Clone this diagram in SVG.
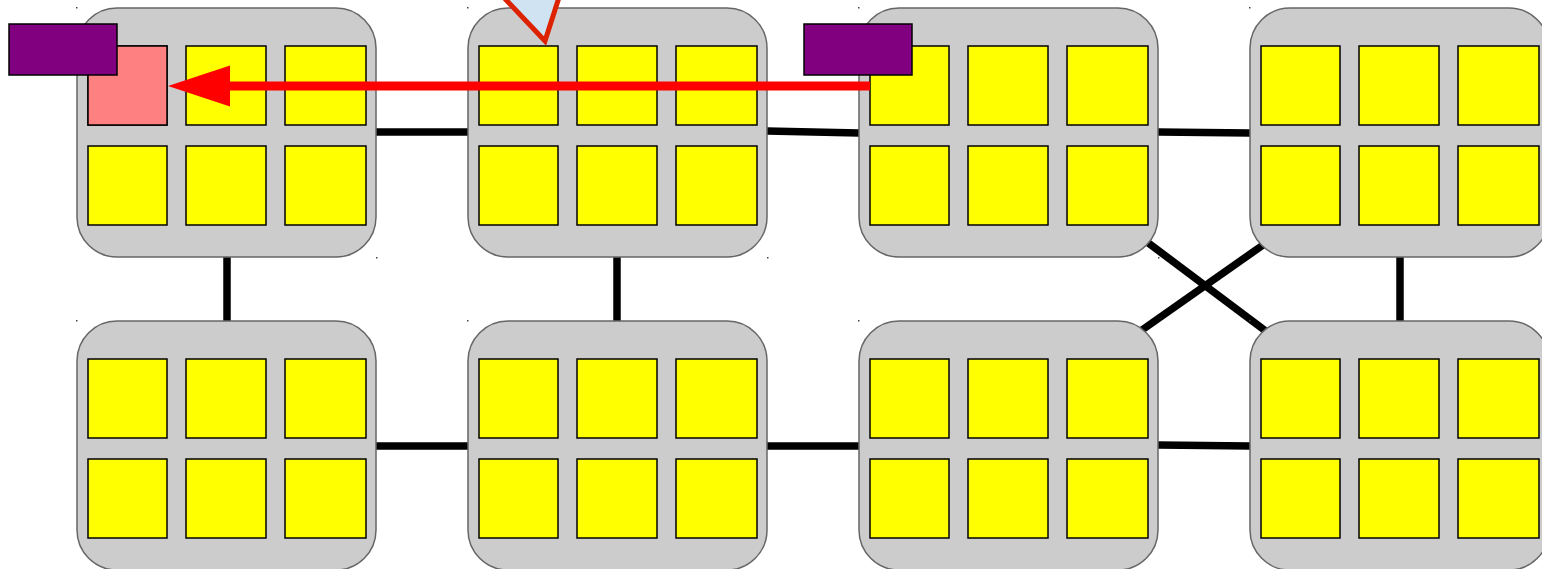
<svg xmlns="http://www.w3.org/2000/svg" width="1542" height="569" viewBox="0 0 1542 569">
<style>
.body{fill:#cccccc;stroke:#666666;stroke-width:1.5}
.cell{fill:#ffff00;stroke:#000000;stroke-width:1.5}
.hot{fill:#ff8080}
.tag{fill:#800080;stroke:#000000;stroke-width:1.5}
.dot{fill:#444444}
.link{stroke:#000000;stroke-width:7.5;fill:none}
.flow{stroke:#ff0000;stroke-width:9;fill:none}
.pointer{fill:#cfe3f3;stroke:#dd2200;stroke-width:5;stroke-linejoin:miter}
</style>
<defs>
<g id="tile">
<rect class="body" x="0" y="0" width="299" height="249" rx="40" ry="40"/>
<rect class="cell" x="11" y="38" width="79" height="79"/>
<rect class="cell" x="109" y="38" width="80" height="79"/>
<rect class="cell" x="208" y="38" width="81" height="79"/>
<rect class="cell" x="11" y="138" width="79" height="79"/>
<rect class="cell" x="109" y="138" width="80" height="79"/>
<rect class="cell" x="208" y="138" width="81" height="79"/>
<rect class="dot" x="-1" y="-1" width="1.5" height="1.5"/>
<rect class="dot" x="299" y="249" width="1.5" height="1.5"/>
</g>
<marker id="head" markerUnits="userSpaceOnUse" markerWidth="64" markerHeight="42" refX="5" refY="20.5" orient="auto" viewBox="0 0 64 42">
<path d="M0,0 L62,20.5 L0,41 Z" fill="#ff0000"/>
</marker>
</defs>
<g id="connectors">
<line class="link" x1="376" y1="132" x2="468" y2="132"/>
<line class="link" x1="767" y1="131" x2="859" y2="133"/>
<line class="link" x1="1158" y1="132" x2="1250" y2="133"/>
<line class="link" x1="376" y1="446" x2="468" y2="446"/>
<line class="link" x1="767" y1="446" x2="859" y2="446"/>
<line class="link" x1="1158" y1="445" x2="1250" y2="446"/>
<line class="link" x1="227" y1="257" x2="227" y2="321"/>
<line class="link" x1="617" y1="257" x2="617" y2="321"/>
<line class="link" x1="1400" y1="257" x2="1400" y2="321"/>
<line class="link" x1="1147" y1="242" x2="1267" y2="332"/>
<line class="link" x1="1263" y1="245" x2="1142" y2="330"/>
</g>
<g id="node-1"><use href="#tile" x="77" y="8"/><rect class="cell hot" x="88" y="46" width="79" height="79"/></g>
<g id="node-2"><use href="#tile" x="468" y="8"/></g>
<g id="node-3"><use href="#tile" x="859" y="8"/></g>
<g id="node-4"><use href="#tile" x="1250" y="8"/></g>
<g id="node-5"><use href="#tile" x="77" y="321"/></g>
<g id="node-6"><use href="#tile" x="468" y="321"/></g>
<g id="node-7"><use href="#tile" x="859" y="321"/></g>
<g id="node-8"><use href="#tile" x="1250" y="321"/></g>
<g id="tag-1"><rect class="tag" x="9" y="24" width="108" height="51"/></g>
<g id="tag-2"><rect class="tag" x="804" y="24" width="108" height="51"/></g>
<g id="flow-arrow"><line class="flow" x1="870" y1="86" x2="225" y2="86" marker-end="url(#head)"/></g>
<g id="pointer"><polygon class="pointer" points="545,41 492,-15 563,-15"/></g>
</svg>
